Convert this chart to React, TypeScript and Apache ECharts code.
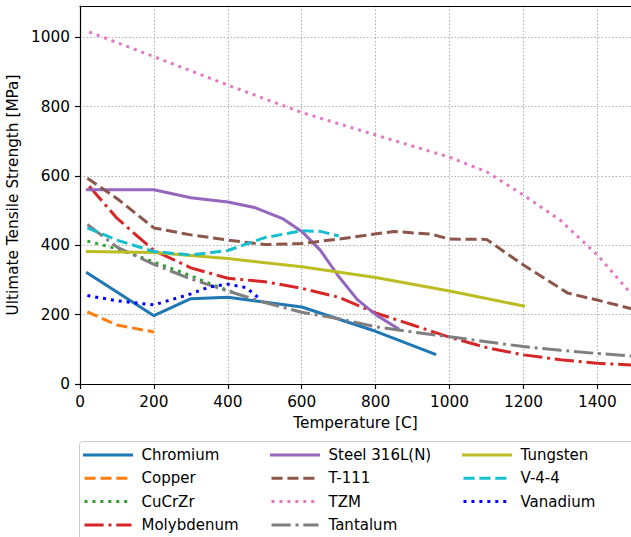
import { useEffect, useRef } from "react";
import * as echarts from "echarts";

// Ultimate tensile strength [MPa] against temperature [C], as [T, S] pairs.
const chromium = [[20, 320], [200, 197], [300, 246], [400, 250], [600, 222], [800, 152], [960, 86]];
const copper = [[20, 208], [100, 170], [200, 150]];
const cucrzr = [[20, 412], [100, 390], [200, 352], [300, 312], [350, 290], [425, 260]];
const molybdenum = [
  [25, 570], [100, 478], [200, 385], [300, 335], [400, 305], [500, 295], [600, 276], [700, 250],
  [800, 205], [900, 170], [1000, 135], [1100, 105], [1200, 84], [1300, 70], [1400, 60], [1500, 54],
];
const steel316LN = [
  [20, 560], [200, 560], [300, 537], [400, 525], [475, 508], [550, 476], [600, 440], [650, 386],
  [700, 310], [750, 244], [800, 200], [860, 160],
];
const t111 = [
  [20, 593], [100, 535], [200, 450], [300, 430], [400, 415], [500, 402], [600, 405], [700, 418],
  [850, 440], [950, 432], [1000, 418], [1100, 417], [1200, 343], [1320, 262], [1400, 242], [1500, 215],
];
const tzm = [
  [25, 1015], [200, 944], [400, 862], [600, 783], [800, 718], [1000, 654], [1100, 612], [1200, 545],
  [1300, 472], [1400, 372], [1500, 250],
];
const tantalum = [
  [20, 460], [100, 395], [200, 345], [300, 303], [400, 268], [500, 235], [600, 207], [700, 188],
  [800, 165], [900, 150], [1000, 136], [1100, 122], [1200, 108], [1300, 97], [1400, 88], [1500, 80],
];
const tungsten = [[20, 382], [200, 379], [400, 362], [600, 338], [800, 307], [1000, 268], [1200, 225]];
const v44 = [[20, 450], [100, 415], [200, 382], [300, 372], [400, 385], [500, 422], [600, 442], [650, 440], [700, 427]];
const vanadium = [[20, 255], [100, 240], [200, 228], [300, 260], [350, 280], [400, 288], [450, 278], [490, 242]];

const legendColumns = [
  ["Chromium", "Copper", "CuCrZr", "Molybdenum"],
  ["Steel 316L(N)", "T-111", "TZM", "Tantalum"],
  ["Tungsten", "V-4-4", "Vanadium"],
];

const LW = 3;
const SOLID = "solid";
const DASHED = [3.7 * LW, 1.6 * LW];
const DOTTED = [1 * LW, 1.65 * LW];
const DASHDOT = [6.4 * LW, 1.6 * LW, 1 * LW, 1.6 * LW];

const materials: { name: string; data: number[][]; color: string; dash: any }[] = [
  { name: "Chromium", data: chromium, color: "#1f77b4", dash: SOLID },
  { name: "Copper", data: copper, color: "#ff7f0e", dash: DASHED },
  { name: "CuCrZr", data: cucrzr, color: "#2ca02c", dash: DOTTED },
  { name: "Molybdenum", data: molybdenum, color: "#d62728", dash: DASHDOT },
  { name: "Steel 316L(N)", data: steel316LN, color: "#9467bd", dash: SOLID },
  { name: "T-111", data: t111, color: "#8c564b", dash: DASHED },
  { name: "TZM", data: tzm, color: "#e377c2", dash: DOTTED },
  { name: "Tantalum", data: tantalum, color: "#7f7f7f", dash: DASHDOT },
  { name: "Tungsten", data: tungsten, color: "#bcbd22", dash: SOLID },
  { name: "V-4-4", data: v44, color: "#17becf", dash: DASHED },
  { name: "Vanadium", data: vanadium, color: "#0000ff", dash: DOTTED },
];

const FONT = "DejaVu Sans";
const FS = 15.3;
const legendLefts = [83, 270, 462];

export default function App() {
  const ref = useRef<HTMLDivElement>(null);

  useEffect(() => {
    if (!ref.current) return;
    const chart = echarts.init(ref.current, undefined, { renderer: "svg" });
    const axisLine = { show: true, onZero: false, lineStyle: { color: "#000", width: 1.2 } };
    const gridLine = { show: true, lineStyle: { color: "#b0b0b0", width: 1, type: [1.5, 2] } };
    const labelStyle = { color: "#000", fontSize: FS, fontFamily: FONT };
    const plain = (v: number) => String(v);

    chart.setOption({
      animation: false,
      backgroundColor: "#fff",
      textStyle: { fontFamily: FONT },
      grid: { left: 80, right: 0, top: 6, bottom: 153, containLabel: false, outerBoundsMode: "none" },
      xAxis: [
        {
          type: "value",
          min: 0,
          max: 1491,
          interval: 200,
          position: "bottom",
          axisLine,
          axisTick: { show: true, length: 5, lineStyle: { color: "#000", width: 1.2 } },
          axisLabel: { ...labelStyle, margin: 10, showMaxLabel: false, formatter: plain },
          splitLine: gridLine,
          name: "Temperature [C]",
          nameLocation: "middle",
          nameGap: 31,
          nameTextStyle: labelStyle,
        },
        {
          type: "value",
          min: 0,
          max: 1491,
          position: "top",
          axisLine,
          axisTick: { show: false },
          axisLabel: { show: false },
          splitLine: { show: false },
        },
      ],
      yAxis: {
        type: "value",
        min: 0,
        max: 1090,
        interval: 200,
        axisLine,
        axisTick: { show: true, length: 5, lineStyle: { color: "#000", width: 1.2 } },
        axisLabel: { ...labelStyle, margin: 10, showMaxLabel: false, formatter: plain },
        splitLine: gridLine,
        name: "Ultimate Tensile Strength [MPa]",
        nameLocation: "middle",
        nameGap: 49,
        nameTextStyle: labelStyle,
      },
      graphic: [
        {
          type: "rect",
          z: 0,
          shape: { x: 79.5, y: 441.5, width: 620, height: 140, r: 3 },
          style: { fill: "#fff", stroke: "#cccccc", lineWidth: 1 },
        },
      ],
      legend: legendColumns.map((names, i) => ({
        data: names,
        orient: "vertical",
        left: legendLefts[i],
        top: 447.5,
        padding: 0,
        itemWidth: 47,
        itemHeight: 15,
        itemGap: 8.3,
        z: 5,
        selectedMode: false,
        itemStyle: { opacity: 0 },
        lineStyle: { width: LW },
        textStyle: { ...labelStyle, fontSize: 15, padding: [0, 0, 0, 5] },
      })),
      series: materials.map((m) => ({
        type: "line",
        name: m.name,
        data: m.data,
        symbol: "none",
        showSymbol: false,
        silent: true,
        itemStyle: { color: m.color },
        lineStyle: { color: m.color, width: LW, type: m.dash, cap: m.dash === SOLID ? "square" : "butt" },
      })),
    });
    return () => chart.dispose();
  }, []);

  return (
    <div
      ref={ref}
      style={{ position: "fixed", left: 0, top: 0, width: 631, height: 537, background: "#fff" }}
    />
  );
}
